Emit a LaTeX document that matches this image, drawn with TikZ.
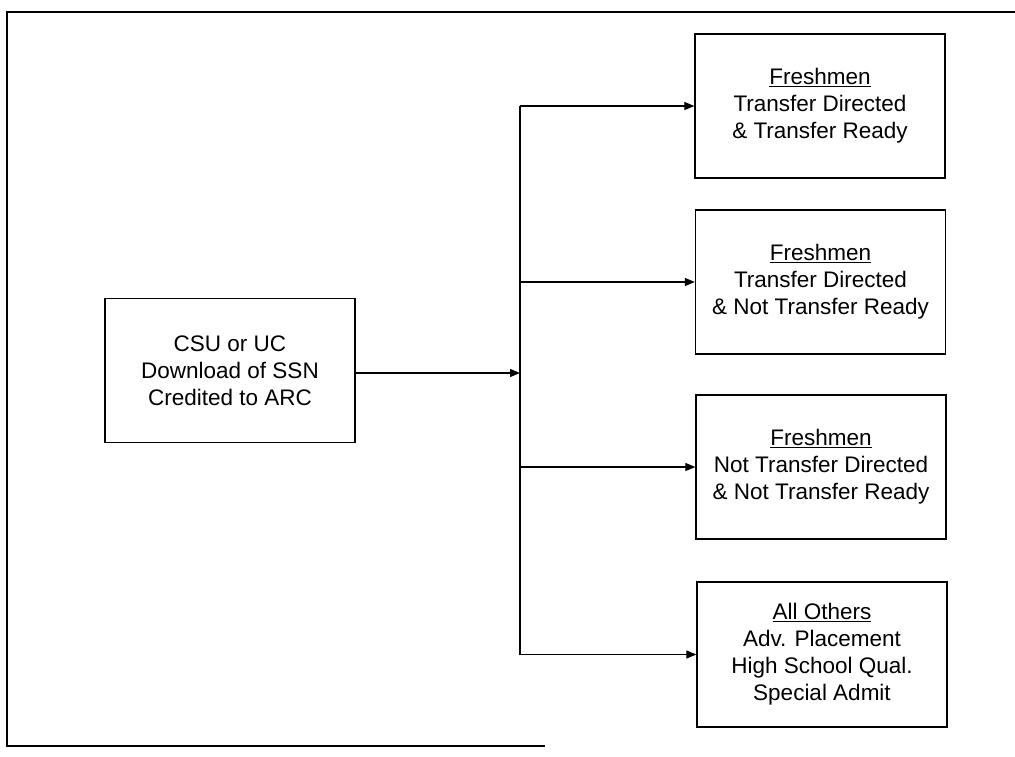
\documentclass[tikz,border=0pt]{standalone}
\usepackage{fontspec}
\setmainfont{Liberation Sans}
\usetikzlibrary{arrows.meta}
\begin{document}
\begin{tikzpicture}[x=1pt,y=-1pt,
  box/.style={draw, line width=1.3pt, minimum width=250pt, minimum height=144pt,
    align=center, font=\fontsize{22.5}{27}\selectfont, inner sep=0pt},
  conn/.style={line width=1.2pt, -{Triangle[length=10pt,width=8pt]}},
  trunk/.style={line width=1.2pt},
  frame/.style={line width=2.5pt}]
\useasboundingbox (0,0) rectangle (1015,756);
% outer frame
\coordinate (f1) at (1016,12);
\coordinate (f2) at (7,12);
\coordinate (f3) at (7,746);
\coordinate (f4) at (545,746);
\draw[frame] (f1) -- (f2) -- (f3) -- (f4);
% boxes
\node[box] (src) at (230,370.5) {CSU or UC\\Download of SSN\\Credited to ARC};
\node[box] (b1) at (820,106) {\underline{Freshmen}\\Transfer Directed\\\& Transfer Ready};
\node[box] (b2) at (820.5,282) {\underline{Freshmen}\\Transfer Directed\\\& Not Transfer Ready};
\node[box] (b3) at (821,467) {\underline{Freshmen}\\Not Transfer Directed\\\& Not Transfer Ready};
\node[box, minimum height=145pt] (b4) at (822,654.5) {\underline{All Others}\\Adv. Placement\\High School Qual.\\Special Admit};
% junction
\coordinate (j) at (520,373);
\coordinate (t1) at (520,106);
\coordinate (t2) at (520,282);
\coordinate (t3) at (520,467);
\coordinate (t4) at (520,654.5);
\draw[conn] (src.east |- j) -- (j);
\draw[trunk] (t1) -- (t4);
\draw[conn] (t1) -- (b1.west);
\draw[conn] (t2) -- (b2.west);
\draw[conn] (t3) -- (b3.west);
\draw[conn] (t4) -- (b4.west);
\end{tikzpicture}
\end{document}
